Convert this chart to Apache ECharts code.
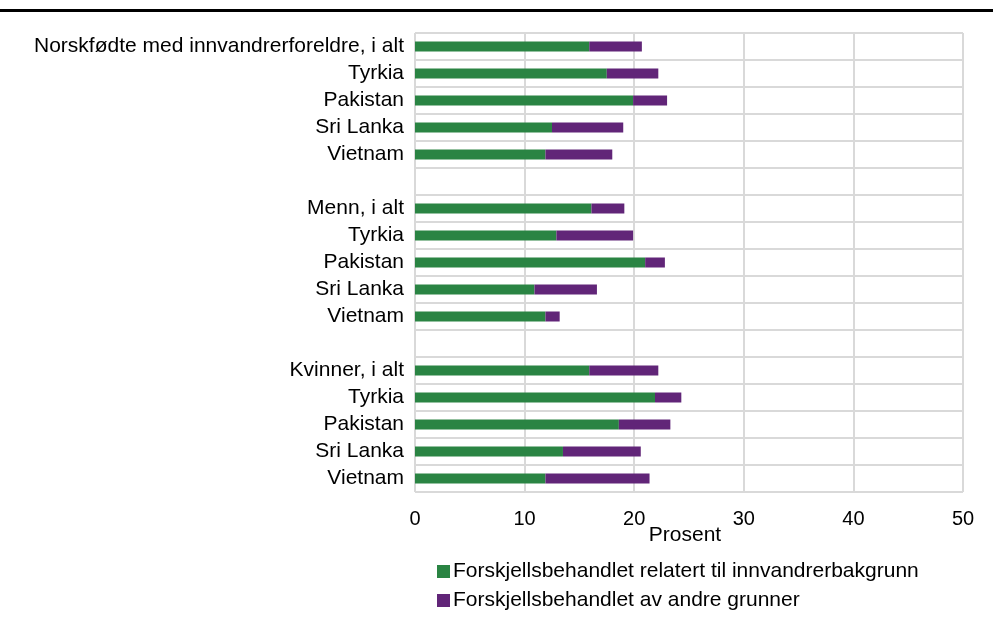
<!DOCTYPE html>
<html>
<head>
<meta charset="utf-8">
<script src="https://cdn.jsdelivr.net/npm/echarts@6/dist/echarts.min.js"></script>
<style>
  html, body { margin: 0; padding: 0; background: #fff; }
  #rule { position: absolute; left: 0; top: 9px; width: 993px; height: 3px; background: #000; }
  #chart { width: 993px; height: 626px; }
</style>
</head>
<body>
<div id="rule"></div>
<div id="chart"></div>
<script>
// Row labels, top to bottom; empty strings are spacer rows between groups
const categories = [
  'Norskfødte med innvandrerforeldre, i alt', 'Tyrkia', 'Pakistan', 'Sri Lanka', 'Vietnam',
  '',
  'Menn, i alt', 'Tyrkia', 'Pakistan', 'Sri Lanka', 'Vietnam',
  '',
  'Kvinner, i alt', 'Tyrkia', 'Pakistan', 'Sri Lanka', 'Vietnam'
];

// Share discriminated because of immigrant background (per cent)
const relatedToBackground = [
  15.9, 17.5, 19.9, 12.5, 11.9,
  null,
  16.1, 12.9, 21.0, 10.9, 11.9,
  null,
  15.9, 21.9, 18.6, 13.5, 11.9
];

// Share discriminated for other reasons (per cent)
const otherReasons = [
  4.8, 4.7, 3.1, 6.5, 6.1,
  null,
  3.0, 7.0, 1.8, 5.7, 1.3,
  null,
  6.3, 2.4, 4.7, 7.1, 9.5
];

const seriesNames = [
  'Forskjellsbehandlet relatert til innvandrerbakgrunn',
  'Forskjellsbehandlet av andre grunner'
];

const chart = echarts.init(document.getElementById('chart'), null, { renderer: 'canvas' });
const font = 'Arial, "Liberation Sans", sans-serif';

chart.setOption({
  animation: false,
  textStyle: { fontFamily: font },
  grid: { left: 415, right: 30, top: 33, bottom: 134, containLabel: false },
  legend: {
    orient: 'vertical',
    left: 432,
    top: 556,
    itemWidth: 13,
    itemHeight: 13,
    itemGap: 8,
    icon: 'rect',
    textStyle: { fontSize: 21, color: '#000', fontFamily: font, padding: [0, 0, 0, -2] },
    data: seriesNames
  },
  xAxis: {
    type: 'value',
    min: 0,
    max: 50,
    interval: 10,
    name: 'Prosent',
    nameLocation: 'middle',
    nameGap: 33,
    nameMoveOverlap: false,
    nameTextStyle: { fontSize: 21, color: '#000', fontFamily: font, padding: [0, 8, 0, 0] },
    axisLine: { show: false },
    axisTick: { show: false },
    axisLabel: { fontSize: 20, color: '#000', margin: 17, fontFamily: font },
    splitLine: { show: true, lineStyle: { color: '#d9d9d9', width: 2 } }
  },
  yAxis: {
    type: 'category',
    inverse: true,
    data: categories,
    axisLine: { show: false },
    axisTick: { show: false },
    axisLabel: { fontSize: 21, color: '#000', margin: 11, fontFamily: font, interval: 0 },
    splitLine: { show: true, interval: 0, lineStyle: { color: '#d9d9d9', width: 2 } }
  },
  series: [
    {
      name: seriesNames[0],
      type: 'bar',
      stack: 'total',
      barWidth: 10,
      itemStyle: { color: '#2a8443' },
      data: relatedToBackground
    },
    {
      name: seriesNames[1],
      type: 'bar',
      stack: 'total',
      barWidth: 10,
      itemStyle: { color: '#612578' },
      data: otherReasons
    }
  ]
});
</script>
</body>
</html>
